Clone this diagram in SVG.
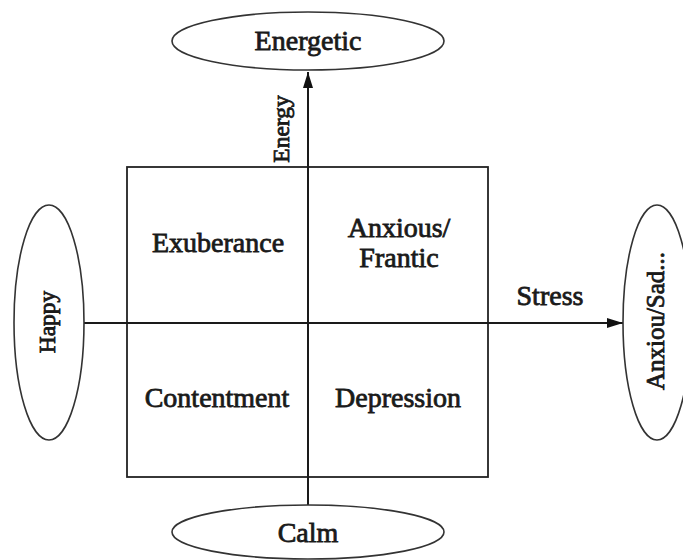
<svg xmlns="http://www.w3.org/2000/svg" width="683" height="560" viewBox="0 0 683 560">
<style>
.el{fill:#fff;stroke:#333;stroke-width:1.6}
.t{font-family:"Liberation Serif","Times New Roman",serif;font-size:28px;fill:#1a1a1a;stroke:#1a1a1a;stroke-width:0.8;text-anchor:middle}
.ax{stroke:#1a1a1a;stroke-width:2;fill:none}
.box{fill:none;stroke:#222;stroke-width:1.8}
</style>
<defs>
<marker id="arr" viewBox="0 0 16 10" refX="16" refY="5" markerWidth="16" markerHeight="10" markerUnits="userSpaceOnUse" orient="auto">
<path d="M0,0 L16,5 L0,10 z" fill="#111"/>
</marker>
</defs>
<rect width="683" height="560" fill="#fff"/>
<g id="quadrants">
<rect class="box" x="127" y="167" width="361" height="310"/>
<text class="t" x="218" y="252">Exuberance</text>
<text class="t" x="399" y="237">Anxious/</text>
<text class="t" x="399" y="267">Frantic</text>
<text class="t" x="217" y="407">Contentment</text>
<text class="t" x="398" y="407">Depression</text>
</g>
<g id="connectors">
<line class="ax" x1="308" y1="505" x2="308" y2="72" marker-end="url(#arr)"/>
<line class="ax" x1="84" y1="323" x2="623" y2="323" marker-end="url(#arr)"/>
<text class="t" style="font-size:23.5px" transform="translate(289,129) rotate(-90)">Energy</text>
<text class="t" x="550" y="305">Stress</text>
</g>
<g id="energetic">
<ellipse class="el" cx="308" cy="41" rx="136" ry="29"/>
<text class="t" x="308" y="50">Energetic</text>
</g>
<g id="calm">
<ellipse class="el" cx="308" cy="532" rx="136" ry="27"/>
<text class="t" x="308" y="542">Calm</text>
</g>
<g id="happy">
<ellipse class="el" cx="49" cy="322.5" rx="35" ry="117.5"/>
<text class="t" style="font-size:23.5px" transform="translate(55,322) rotate(-90)">Happy</text>
</g>
<g id="anxious-sad">
<ellipse class="el" cx="657" cy="322.5" rx="34" ry="117.5"/>
<text class="t" style="font-size:25px" transform="translate(664,321) rotate(-90)">Anxiou/Sad...</text>
</g>
</svg>
